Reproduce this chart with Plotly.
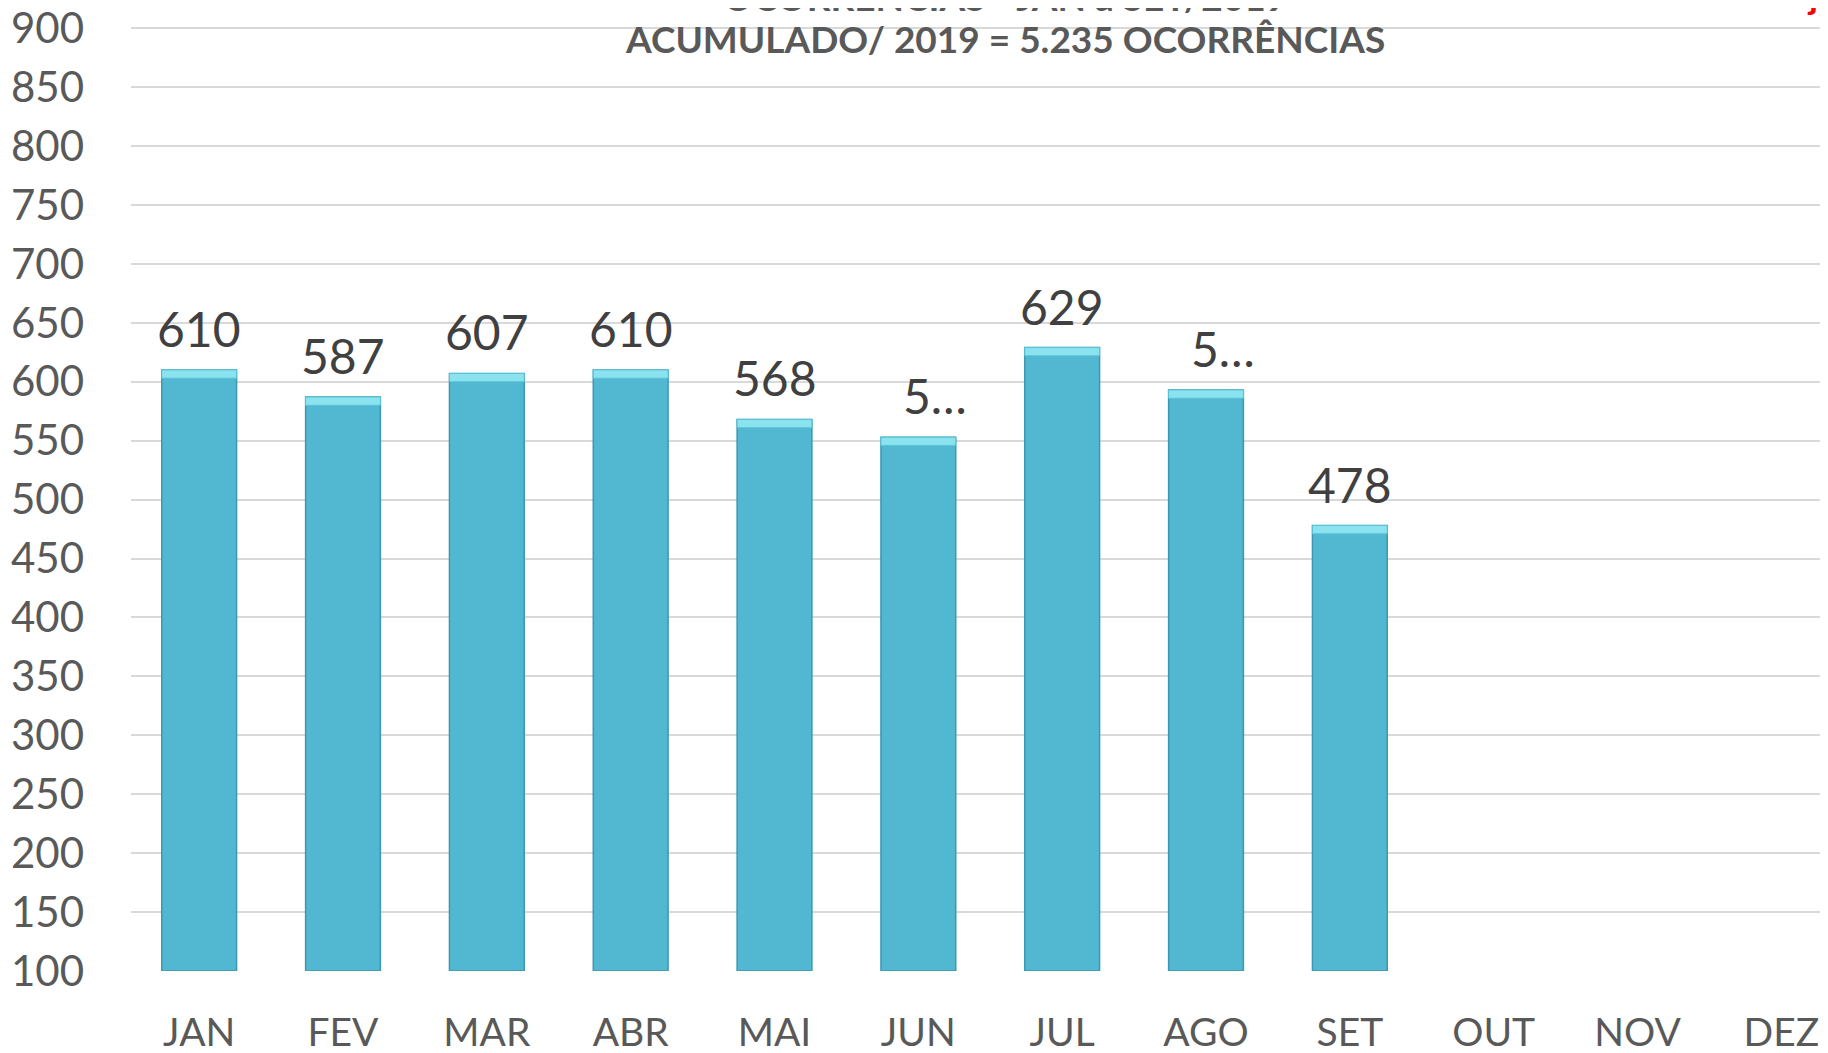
import plotly.graph_objects as go

months = ["JAN", "FEV", "MAR", "ABR", "MAI", "JUN", "JUL", "AGO", "SET", "OUT", "NOV", "DEZ"]
values = [610, 587, 607, 610, 568, 553, 629, 593, 478, None, None, None]
labels = ["610", "587", "607", "610", "568", "5…", "629", "5…", "478", "", "", ""]
y_ticks = list(range(100, 901, 50))
title_line1 = "OCORRÊNCIAS - JAN a SET/2019"
title_line2 = "ACUMULADO/ 2019 = 5.235 OCORRÊNCIAS"

FONT = "Lato"
W, H = 1828, 1053
ML, MR, MT, MB = 123, 0, 19, 90
OFF = 8  # page body margin

cap = 7
cap_base = [v - cap if v is not None else None for v in values]
cap_h = [cap if v is not None else None for v in values]

fig = go.Figure()
fig.add_trace(go.Bar(
    x=months, y=[(v - 100) if v is not None else None for v in values], base=100,
    marker=dict(color="#52B8D2", line=dict(color="#3C98B0", width=1.5)),
    width=0.52, hoverinfo="skip",
))
fig.add_trace(go.Bar(
    x=months, y=cap_h, base=cap_base,
    marker=dict(color="#8BE3F0", line=dict(color="#5CC3D8", width=1)),
    width=0.52, hoverinfo="skip",
))

plot_w = W - ML - MR
plot_h = H - MT - MB
def px_to_paper(xs, ys):
    xf, yf = xs - OFF, ys - OFF
    return (xf - ML) / plot_w, (H - MB - yf) / plot_h

x1, y1 = px_to_paper(1005, -3)
x2, y2 = px_to_paper(1005, 38)
xr, yr = px_to_paper(1812, 19)

annotations = [
    dict(text="<b>" + title_line1 + "</b>", x=x1, y=y1, xref="paper", yref="paper",
         xanchor="center", yanchor="middle", showarrow=False,
         font=dict(family=FONT, size=37, color="#595959")),
    dict(text="<b>" + title_line2 + "</b>", x=x2, y=y2, xref="paper", yref="paper",
         xanchor="center", yanchor="middle", showarrow=False,
         font=dict(family=FONT, size=37, color="#595959")),
    dict(text="<b>j</b>", x=xr, y=yr, xref="paper", yref="paper",
         xanchor="center", yanchor="bottom", showarrow=False,
         font=dict(family=FONT, size=36, color="#FF0000")),
]
for m, v, lab in zip(months, values, labels):
    if v is None:
        continue
    annotations.append(dict(
        text=lab, x=m, y=v, xref="x", yref="y", xanchor="center", yanchor="bottom",
        yshift=11, xshift=17 if lab.endswith("…") else 0, showarrow=False,
        font=dict(family=FONT, size=48, color="#404040"),
    ))

fig.update_layout(
    width=W, height=H,
    margin=dict(l=ML, r=MR, t=MT, b=MB),
    plot_bgcolor="white", paper_bgcolor="white",
    barmode="overlay", showlegend=False,
    font=dict(family=FONT, color="#595959"),
    xaxis=dict(range=[-0.474, 11.38], showgrid=False, zeroline=False, showline=False,
               automargin=False,
               tickfont=dict(size=39, color="#595959"), ticks="", ticklabelstandoff=35),
    yaxis=dict(range=[100, 901], tickvals=y_ticks, showgrid=True, gridcolor="#D9D9D9", gridwidth=2,
               zeroline=False, showline=False, ticks="", ticklabeloverflow="allow",
               automargin=False,
               tickfont=dict(size=42, color="#595959"), ticklabelstandoff=46),
    annotations=annotations,
)

fig.write_html("out.html")
